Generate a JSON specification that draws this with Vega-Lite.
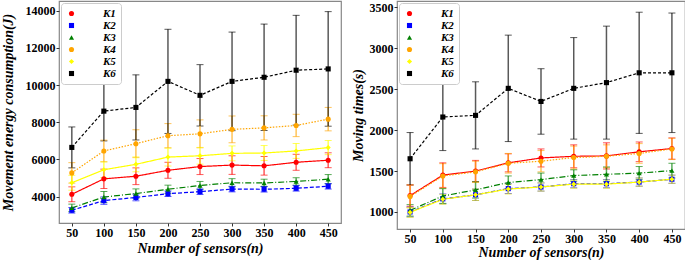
{
  "$schema": "https://vega.github.io/schema/vega-lite/v6.json",
  "padding": {"left": 0, "top": 0, "right": 3, "bottom": 0},
  "spacing": 8,
  "config": {
    "font": "Liberation Serif",
    "view": {"stroke": "#888", "strokeWidth": 1.2},
    "axis": {"grid": false, "domain": false, "tickColor": "#333", "tickSize": 3, "labelFont": "Liberation Serif", "labelFontWeight": "bold", "labelFontSize": 12, "labelColor": "#000", "labelPadding": 1, "format": "d", "titleFont": "Liberation Serif", "titleFontWeight": "bold", "titleFontStyle": "italic", "titleFontSize": 14, "titleColor": "#000"},
    "legend": {"orient": "top-left", "offset": 2, "padding": 5, "fillColor": "white", "strokeColor": "#ccc", "cornerRadius": 3, "labelFont": "Liberation Serif", "labelFontWeight": "bold", "labelFontStyle": "italic", "labelFontSize": 11, "labelOffset": 26, "rowPadding": 0, "symbolSize": 26, "symbolOpacity": 1, "symbolStrokeWidth": 0, "symbolDash": [1, 0], "title": null}
  },
  "data": {"values": [
    {"n": 50, "k": "K1", "E": 4130, "Ee": 400, "T": 1200, "Te": 130},
    {"n": 100, "k": "K1", "E": 4960, "Ee": 520, "T": 1450, "Te": 150},
    {"n": 150, "k": "K1", "E": 5100, "Ee": 450, "T": 1500, "Te": 130},
    {"n": 200, "k": "K1", "E": 5420, "Ee": 430, "T": 1600, "Te": 110},
    {"n": 250, "k": "K1", "E": 5620, "Ee": 430, "T": 1660, "Te": 110},
    {"n": 300, "k": "K1", "E": 5700, "Ee": 500, "T": 1680, "Te": 140},
    {"n": 350, "k": "K1", "E": 5660, "Ee": 500, "T": 1685, "Te": 160},
    {"n": 400, "k": "K1", "E": 5850, "Ee": 430, "T": 1735, "Te": 120},
    {"n": 450, "k": "K1", "E": 5960, "Ee": 400, "T": 1775, "Te": 130},
    {"n": 50, "k": "K2", "E": 3270, "Ee": 150, "T": 1000, "Te": 60},
    {"n": 100, "k": "K2", "E": 3790, "Ee": 200, "T": 1160, "Te": 60},
    {"n": 150, "k": "K2", "E": 3960, "Ee": 180, "T": 1210, "Te": 70},
    {"n": 200, "k": "K2", "E": 4160, "Ee": 150, "T": 1285, "Te": 60},
    {"n": 250, "k": "K2", "E": 4270, "Ee": 150, "T": 1305, "Te": 50},
    {"n": 300, "k": "K2", "E": 4410, "Ee": 150, "T": 1345, "Te": 50},
    {"n": 350, "k": "K2", "E": 4400, "Ee": 150, "T": 1345, "Te": 50},
    {"n": 400, "k": "K2", "E": 4450, "Ee": 150, "T": 1365, "Te": 50},
    {"n": 450, "k": "K2", "E": 4560, "Ee": 150, "T": 1400, "Te": 50},
    {"n": 50, "k": "K3", "E": 3400, "Ee": 200, "T": 1020, "Te": 70},
    {"n": 100, "k": "K3", "E": 3980, "Ee": 300, "T": 1195, "Te": 90},
    {"n": 150, "k": "K3", "E": 4170, "Ee": 250, "T": 1270, "Te": 100},
    {"n": 200, "k": "K3", "E": 4400, "Ee": 220, "T": 1360, "Te": 80},
    {"n": 250, "k": "K3", "E": 4600, "Ee": 220, "T": 1395, "Te": 80},
    {"n": 300, "k": "K3", "E": 4750, "Ee": 220, "T": 1445, "Te": 70},
    {"n": 350, "k": "K3", "E": 4740, "Ee": 200, "T": 1460, "Te": 90},
    {"n": 400, "k": "K3", "E": 4820, "Ee": 200, "T": 1475, "Te": 80},
    {"n": 450, "k": "K3", "E": 4940, "Ee": 250, "T": 1505, "Te": 90},
    {"n": 50, "k": "K4", "E": 5280, "Ee": 550, "T": 1190, "Te": 140},
    {"n": 100, "k": "K4", "E": 6460, "Ee": 580, "T": 1440, "Te": 150},
    {"n": 150, "k": "K4", "E": 6850, "Ee": 750, "T": 1490, "Te": 130},
    {"n": 200, "k": "K4", "E": 7280, "Ee": 650, "T": 1595, "Te": 120},
    {"n": 250, "k": "K4", "E": 7380, "Ee": 750, "T": 1620, "Te": 130},
    {"n": 300, "k": "K4", "E": 7620, "Ee": 720, "T": 1665, "Te": 140},
    {"n": 350, "k": "K4", "E": 7700, "Ee": 650, "T": 1680, "Te": 140},
    {"n": 400, "k": "K4", "E": 7830, "Ee": 600, "T": 1715, "Te": 120},
    {"n": 450, "k": "K4", "E": 8170, "Ee": 630, "T": 1770, "Te": 130},
    {"n": 50, "k": "K5", "E": 4750, "Ee": 400, "T": 995, "Te": 60},
    {"n": 100, "k": "K5", "E": 5450, "Ee": 420, "T": 1155, "Te": 60},
    {"n": 150, "k": "K5", "E": 5740, "Ee": 400, "T": 1210, "Te": 70},
    {"n": 200, "k": "K5", "E": 6130, "Ee": 480, "T": 1280, "Te": 60},
    {"n": 250, "k": "K5", "E": 6200, "Ee": 450, "T": 1305, "Te": 50},
    {"n": 300, "k": "K5", "E": 6330, "Ee": 400, "T": 1340, "Te": 50},
    {"n": 350, "k": "K5", "E": 6350, "Ee": 400, "T": 1340, "Te": 50},
    {"n": 400, "k": "K5", "E": 6460, "Ee": 400, "T": 1365, "Te": 50},
    {"n": 450, "k": "K5", "E": 6640, "Ee": 380, "T": 1400, "Te": 50},
    {"n": 50, "k": "K6", "E": 6650, "Ee": 1100, "T": 1650, "Te": 320},
    {"n": 100, "k": "K6", "E": 8600, "Ee": 1600, "T": 2160, "Te": 410},
    {"n": 150, "k": "K6", "E": 8800, "Ee": 1750, "T": 2180, "Te": 410},
    {"n": 200, "k": "K6", "E": 10200, "Ee": 2800, "T": 2510, "Te": 650},
    {"n": 250, "k": "K6", "E": 9450, "Ee": 1650, "T": 2350, "Te": 400},
    {"n": 300, "k": "K6", "E": 10200, "Ee": 2650, "T": 2510, "Te": 620},
    {"n": 350, "k": "K6", "E": 10420, "Ee": 2860, "T": 2580, "Te": 690},
    {"n": 400, "k": "K6", "E": 10800, "Ee": 2950, "T": 2700, "Te": 740},
    {"n": 450, "k": "K6", "E": 10870, "Ee": 3080, "T": 2700, "Te": 730}
  ]},
  "hconcat": [
    {
      "width": 282,
      "height": 222,
      "encoding": {
        "x": {"field": "n", "type": "quantitative", "scale": {"domain": [30, 470], "nice": false, "zero": false}, "axis": {"values": [50, 100, 150, 200, 250, 300, 350, 400, 450], "title": "Number of sensors(n)", "titlePadding": 3}},
        "color": {"field": "k", "type": "nominal", "scale": {"domain": ["K1", "K2", "K3", "K4", "K5", "K6"], "range": ["#ff0000", "#0000ff", "#008000", "#ffa500", "#ffff00", "#000000"]}, "legend": {"title": null}}
      },
      "layer": [
        {
          "mark": {"type": "errorbar", "ticks": {"size": 7, "opacity": 0.65}, "rule": {"opacity": 0.65, "strokeWidth": 1.5}},
          "encoding": {
            "y": {"field": "E", "type": "quantitative", "scale": {"domain": [2586, 14521], "nice": false, "zero": false}, "axis": {"values": [4000, 6000, 8000, 10000, 12000, 14000], "title": "Movement energy consumption(J)", "titlePadding": 10}},
            "yError": {"field": "Ee"}
          }
        },
        {
          "mark": {"type": "line", "strokeWidth": 1.2},
          "encoding": {
            "y": {"field": "E", "type": "quantitative"},
            "strokeDash": {"field": "k", "type": "nominal", "scale": {"domain": ["K1", "K2", "K3", "K4", "K5", "K6"], "range": [[1, 0], [4, 2], [6, 2, 1, 2], [1.5, 1.5], [1, 0], [3, 2]]}, "legend": null}
          }
        },
        {
          "mark": {"type": "point", "filled": true, "size": 26, "opacity": 1},
          "encoding": {
            "y": {"field": "E", "type": "quantitative"},
            "shape": {"field": "k", "type": "nominal", "scale": {"domain": ["K1", "K2", "K3", "K4", "K5", "K6"], "range": ["circle", "square", "triangle-up", "circle", "diamond", "square"]}, "legend": {"title": null}}
          }
        }
      ]
    },
    {
      "width": 288,
      "height": 228,
      "encoding": {
        "x": {"field": "n", "type": "quantitative", "scale": {"domain": [30, 470], "nice": false, "zero": false}, "axis": {"values": [50, 100, 150, 200, 250, 300, 350, 400, 450], "title": "Number of sensors(n)", "titlePadding": 1}},
        "color": {"field": "k", "type": "nominal", "scale": {"domain": ["K1", "K2", "K3", "K4", "K5", "K6"], "range": ["#ff0000", "#0000ff", "#008000", "#ffa500", "#ffff00", "#000000"]}, "legend": {"title": null}}
      },
      "layer": [
        {
          "mark": {"type": "errorbar", "ticks": {"size": 7, "opacity": 0.65}, "rule": {"opacity": 0.65, "strokeWidth": 1.5}},
          "encoding": {
            "y": {"field": "T", "type": "quantitative", "scale": {"domain": [792, 3577], "nice": false, "zero": false}, "axis": {"values": [1000, 1500, 2000, 2500, 3000, 3500], "title": "Moving times(s)", "titlePadding": 4}},
            "yError": {"field": "Te"}
          }
        },
        {
          "mark": {"type": "line", "strokeWidth": 1.2},
          "encoding": {
            "y": {"field": "T", "type": "quantitative"},
            "strokeDash": {"field": "k", "type": "nominal", "scale": {"domain": ["K1", "K2", "K3", "K4", "K5", "K6"], "range": [[1, 0], [4, 2], [6, 2, 1, 2], [1.5, 1.5], [1, 0], [3, 2]]}, "legend": null}
          }
        },
        {
          "mark": {"type": "point", "filled": true, "size": 26, "opacity": 1},
          "encoding": {
            "y": {"field": "T", "type": "quantitative"},
            "shape": {"field": "k", "type": "nominal", "scale": {"domain": ["K1", "K2", "K3", "K4", "K5", "K6"], "range": ["circle", "square", "triangle-up", "circle", "diamond", "square"]}, "legend": {"title": null}}
          }
        }
      ]
    }
  ],
  "resolve": {"scale": {"y": "independent", "color": "independent", "shape": "independent", "strokeDash": "independent"}, "legend": {"color": "independent", "shape": "independent"}}
}
